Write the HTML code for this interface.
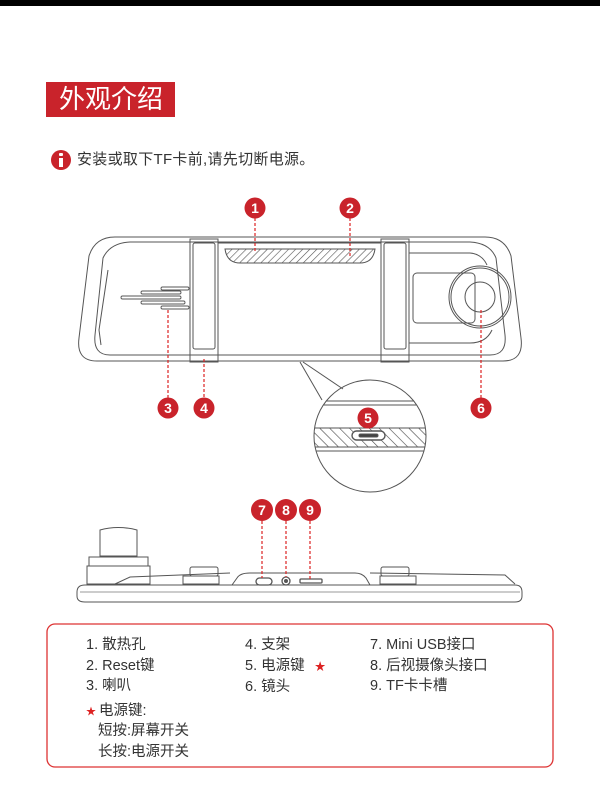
<!DOCTYPE html>
<html><head><meta charset="utf-8"><style>
html,body{margin:0;padding:0;background:#fff;}
body{width:600px;height:801px;position:relative;overflow:hidden;font-family:"Liberation Sans","Noto Sans CJK SC",sans-serif;color:#333;}
.t{position:absolute;white-space:nowrap;}
</style></head><body>
<div style="position:absolute;left:0;top:0;width:600px;height:6px;background:#000"></div>
<div style="position:absolute;left:46px;top:82px;width:129px;height:35px;background:#c9232b"></div>
<div class="t" style="left:59px;top:83px;font-size:26px;line-height:32px;color:#fff">外观介绍</div>
<div style="position:absolute;left:51px;top:150px;width:20px;height:20px;border-radius:50%;background:#c9232b"></div>
<div style="position:absolute;left:59px;top:153px;width:4px;height:3px;background:#fff;border-radius:1px"></div>
<div style="position:absolute;left:59px;top:158px;width:4px;height:9px;background:#fff"></div>
<div class="t" style="left:77px;top:151px;font-size:15px;letter-spacing:0.3px;line-height:18px;color:#333">安装或取下TF卡前,请先切断电源。</div>

<svg width="600" height="801" style="position:absolute;left:0;top:0" xmlns="http://www.w3.org/2000/svg">
<defs>
<pattern id="h" width="5" height="5" patternUnits="userSpaceOnUse" patternTransform="rotate(45)"><line x1="0" y1="0" x2="0" y2="5" stroke="#555" stroke-width="1.2"/></pattern>
<pattern id="h2" width="7" height="7" patternUnits="userSpaceOnUse" patternTransform="rotate(-45)"><line x1="0" y1="0" x2="0" y2="7" stroke="#444" stroke-width="1.2"/></pattern>
<clipPath id="cc"><circle cx="370" cy="436" r="56"/></clipPath>
</defs>
<g fill="none" stroke="#555" stroke-width="1">
<path d="M115,237 L485,237 Q505,237 511,256 L521,338 Q524,361 503,361 L97,361 Q76,361 79,338 L89,256 Q95,237 115,237 Z"/>
<path d="M130,242 L470,242 Q490,243 496,258 L505,335 Q507,355 490,355 L110,355 Q93,355 95,335 L103,258 Q110,243 130,242 Z"/>
<path d="M108,270 L99,330 L101,345" />
<rect x="190" y="239" width="28" height="123"/>
<rect x="193" y="243" width="22" height="106" rx="2"/>
<rect x="381" y="239" width="28" height="123"/>
<rect x="384" y="243" width="22" height="106" rx="2"/>
<line x1="218" y1="243" x2="381" y2="243"/><line x1="218" y1="355" x2="381" y2="355"/>
<path d="M225,249 L375,249 Q373,263 360,263 L240,263 Q227,263 225,249 Z" fill="url(#h)"/>
<g stroke-width="0.9">
<rect x="121" y="296" width="60" height="3" rx="1.5"/>
<rect x="141" y="291" width="40" height="3" rx="1.5"/>
<rect x="161" y="287" width="28" height="3" rx="1.5"/>
<rect x="141" y="301" width="44" height="3" rx="1.5"/>
<rect x="161" y="306" width="28" height="3" rx="1.5"/>
</g>
<path d="M409,253 L470,253 Q482,254 487,265"/>
<rect x="413" y="273" width="62" height="50" rx="4"/>
<path d="M409,343 L470,343 Q486,343 492,330"/>
<circle cx="480" cy="297" r="31"/><circle cx="480" cy="297" r="29"/>
<circle cx="480" cy="297" r="15"/>
<line x1="300" y1="362" x2="322" y2="400"/><line x1="303" y1="362" x2="343" y2="389"/>
<circle cx="370" cy="436" r="56"/>
<g clip-path="url(#cc)">
<line x1="300" y1="401" x2="440" y2="401"/><line x1="300" y1="405" x2="440" y2="405"/>
<rect x="300" y="428" width="140" height="19" fill="url(#h2)"/>
<line x1="300" y1="428" x2="440" y2="428"/><line x1="300" y1="447" x2="440" y2="447"/>
<line x1="300" y1="451" x2="440" y2="451"/>
<rect x="352" y="431" width="33" height="9" rx="4.5" fill="#fff" stroke-width="1.4"/>
<rect x="359" y="434" width="19" height="3" rx="1.5" fill="#444"/>
</g>
<path d="M85,585 L515,585 Q522,585 522,592 L522,596 Q522,602 515,602 L85,602 Q77,602 77,596 L77,592 Q77,585 85,585 Z"/>
<line x1="80" y1="592" x2="520" y2="592" stroke="#999"/>
<path d="M115,584 L130,577 L230,573"/>
<path d="M370,573 L505,575 L515,584"/>
<path d="M232,585 L237,578 Q240,573 250,573 L355,573 Q362,573 366,578 L370,585"/>
<rect x="190" y="567" width="28" height="9" rx="2"/><rect x="183" y="576" width="36" height="8"/>
<rect x="381" y="567" width="28" height="9" rx="2"/><rect x="380" y="576" width="36" height="8"/>
<path d="M100,530 Q118,525 137,530 L137,556 L100,556 Z"/>
<rect x="89" y="557" width="59" height="9"/>
<rect x="87" y="566" width="63" height="18"/>
<rect x="256" y="578" width="16" height="7" rx="3.5" stroke-width="1.3"/>
<circle cx="286" cy="581" r="4" stroke-width="1.3"/><circle cx="286" cy="581" r="1.5" fill="#555"/>
<rect x="300" y="579" width="22" height="4" rx="1" stroke-width="1.3"/>
</g>
<g stroke="#d22" stroke-width="1.2" stroke-dasharray="3,2" fill="none">
<line x1="255" y1="218" x2="255" y2="252"/>
<line x1="350" y1="218" x2="350" y2="258"/>
<line x1="168" y1="310" x2="168" y2="398"/>
<line x1="204" y1="359" x2="204" y2="398"/>
<line x1="481" y1="310" x2="481" y2="398"/>
<line x1="262" y1="521" x2="262" y2="578"/>
<line x1="286" y1="521" x2="286" y2="577"/>
<line x1="310" y1="521" x2="310" y2="579"/>
</g>
<g font-family="Liberation Sans, sans-serif" font-weight="bold" font-size="14" fill="#fff" text-anchor="middle">
<circle cx="255" cy="208" r="10.5" fill="#c9232b"/><text x="255" y="213">1</text>
<circle cx="350" cy="208" r="10.5" fill="#c9232b"/><text x="350" y="213">2</text>
<circle cx="168" cy="408" r="10.5" fill="#c9232b"/><text x="168" y="413">3</text>
<circle cx="204" cy="408" r="10.5" fill="#c9232b"/><text x="204" y="413">4</text>
<circle cx="368" cy="418" r="10.5" fill="#c9232b"/><text x="368" y="423">5</text>
<circle cx="481" cy="408" r="10.5" fill="#c9232b"/><text x="481" y="413">6</text>
<circle cx="262" cy="510" r="11" fill="#c9232b"/><text x="262" y="515">7</text>
<circle cx="286" cy="510" r="11" fill="#c9232b"/><text x="286" y="515">8</text>
<circle cx="310" cy="510" r="11" fill="#c9232b"/><text x="310" y="515">9</text>
</g>
<rect x="47" y="624" width="506" height="143" rx="8" fill="none" stroke="#d33" stroke-width="1.3"/>
</svg>

<div style="position:absolute;left:0;top:0;font-size:14.5px;line-height:20.5px;color:#333">
<div class="t" style="left:86px;top:635px">1. 散热孔<br>2. Reset键<br>3. 喇叭</div>
<div class="t" style="left:245px;top:635px">4. 支架<br>5. 电源键 <span style="color:#d22;font-size:11px;margin-left:6px">★</span><br>6. 镜头</div>
<div class="t" style="left:370px;top:635px">7. Mini USB接口<br>8. 后视摄像头接口<br>9. TF卡卡槽</div>
<div class="t" style="left:86px;top:701px"><span style="color:#d22;font-size:10px;margin-right:3px">★</span>电源键:</div>
<div class="t" style="left:98px;top:721px">短按:屏幕开关<br>长按:电源开关</div>
</div>
</body></html>
